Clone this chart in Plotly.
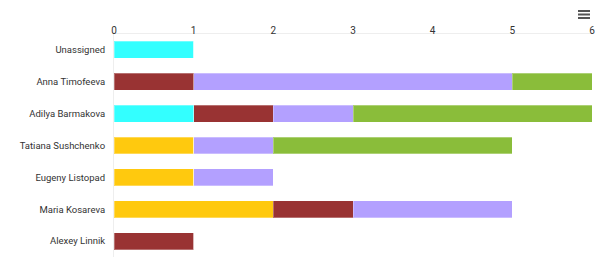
import plotly.graph_objects as go

categories = ["Unassigned", "Anna Timofeeva", "Adilya Barmakova", "Tatiana Sushchenko",
              "Eugeny Listopad", "Maria Kosareva", "Alexey Linnik"]
yellow_vals = [0, 0, 0, 1, 1, 2, 0]
cyan_vals = [1, 0, 1, 0, 0, 0, 0]
red_vals = [0, 1, 1, 0, 0, 1, 1]
lavender_vals = [0, 4, 1, 1, 1, 2, 0]
green_vals = [0, 1, 3, 3, 0, 0, 0]
tick_vals = [0, 1, 2, 3, 4, 5, 6]

series = [
    ("Yellow", yellow_vals, "#FFC90E"),
    ("Cyan", cyan_vals, "#33FFFF"),
    ("Red", red_vals, "#993333"),
    ("Lavender", lavender_vals, "#B3A0FF"),
    ("Green", green_vals, "#8ABD3A"),
]

fig = go.Figure()
for name, vals, color in series:
    fig.add_trace(go.Bar(
        y=categories, x=vals, name=name, orientation="h",
        marker=dict(color=color, line=dict(color="rgba(255,255,255,0.3)", width=1)),
        hoverinfo="x+y",
    ))

icon_shapes = [
    dict(type="line", xref="paper", yref="paper", xsizemode="pixel", ysizemode="pixel",
         xanchor=1, yanchor=1, x0=-14, x1=-2, y0=off, y1=off,
         line=dict(color="#555555", width=2))
    for off in (23, 19.5, 16)
]

fig.update_layout(
    barmode="stack",
    bargap=0.47,
    width=600, height=257,
    margin=dict(l=114, r=8, t=34, b=0),
    paper_bgcolor="white", plot_bgcolor="white",
    showlegend=False,
    font=dict(family="Roboto", size=9.5, color="#333333"),
    xaxis=dict(side="top", range=[0, 6], tickvals=tick_vals, showgrid=False,
               zeroline=False, showline=True, linecolor="#EEEEEE", linewidth=1,
               ticks="", ticklabelstandoff=-5, fixedrange=True,
               tickfont=dict(size=10)),
    yaxis=dict(autorange="reversed", showgrid=False, zeroline=False, showline=True,
               linecolor="#EEEEEE", linewidth=1, ticks="", ticklabelstandoff=6,
               fixedrange=True),
    shapes=icon_shapes,
)

fig.write_html("out.html", config={"displayModeBar": False})
